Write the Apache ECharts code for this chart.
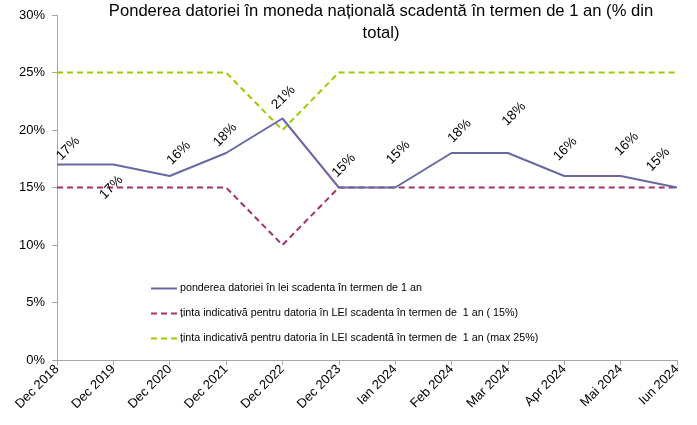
<!DOCTYPE html>
<html>
<head>
<meta charset="utf-8">
<script src="https://cdn.jsdelivr.net/npm/echarts@6/dist/echarts.min.js"></script>
<style>
  html, body { margin: 0; padding: 0; background: #fff; }
  #main { width: 697px; height: 425px; }
</style>
</head>
<body>
<div id="main"></div>
<script>
const categories = ["Dec 2018", "Dec 2019", "Dec 2020", "Dec 2021", "Dec 2022", "Dec 2023",
  "Ian 2024", "Feb 2024", "Mar 2024", "Apr 2024", "Mai 2024", "Iun 2024"];
const ponderea = [17, 17, 16, 18, 21, 15, 15, 18, 18, 16, 16, 15];
const tinta15 = [15, 15, 15, 15, 10, 15, 15, 15, 15, 15, 15, 15];
const tinta25 = [25, 25, 25, 25, 20, 25, 25, 25, 25, 25, 25, 25];
const yTicks = [0, 5, 10, 15, 20, 25, 30];

const seriesNames = [
  "ponderea datoriei în lei scadenta în termen de 1 an",
  "ținta indicativă pentru datoria în LEI scadenta în termen de  1 an ( 15%)",
  "ținta indicativă pentru datoria în LEI scadentă în termen de  1 an (max 25%)"
];

// hand-placed data labels, as in the original chart (screen pixel nudges)
const labelNudge = [[16, 3], [-7, 4], [14, -4], [4, 1], [6, -2], [10, -3],
  [8, -16], [13, -3], [11, -20], [6, -8], [11, -13], [-14, -9]];
// label offset is applied in the rotated (45deg) frame, so turn it back
function toLocal(n) {
  const k = Math.SQRT1_2;
  return [(n[0] - n[1]) * k, (n[0] + n[1]) * k];
}

let chart = echarts.init(document.getElementById("main"));
let option = {
  animation: false,
  textStyle: { fontFamily: "Liberation Sans, Arial, sans-serif" },
  title: {
    text: "Ponderea datoriei în moneda națională scadentă în termen de 1 an (% din\ntotal)",
    left: 376,
    textAlign: "center",
    top: -5,
    textStyle: { fontSize: 16.6, fontWeight: "normal", color: "#000", lineHeight: 22 }
  },
  legend: {
    orient: "vertical",
    left: 145,
    top: 278,
    itemGap: 14,
    itemWidth: 26,
    itemHeight: 12,
    itemStyle: { opacity: 0 },
    textStyle: { fontSize: 10.7, color: "#000", padding: [0, 0, 0, -2] },
    data: seriesNames
  },
  grid: { left: 57, right: 20, top: 15, bottom: 65, containLabel: false },
  xAxis: {
    type: "category",
    boundaryGap: false,
    data: categories,
    axisLine: { lineStyle: { color: "#a6a6a6" } },
    axisTick: { show: true, length: 5, lineStyle: { color: "#a6a6a6" } },
    axisLabel: { rotate: 45, fontSize: 13, color: "#000", margin: 7, interval: 0 },
    splitLine: { show: false }
  },
  yAxis: {
    type: "value",
    min: yTicks[0],
    max: yTicks[yTicks.length - 1],
    interval: 5,
    axisLine: { show: true, lineStyle: { color: "#a6a6a6" } },
    axisTick: { show: true, length: 5, lineStyle: { color: "#a6a6a6" } },
    axisLabel: { fontSize: 13, color: "#000", margin: 12, formatter: "{value}%" },
    splitLine: { show: false }
  },
  series: [
    {
      name: seriesNames[0],
      type: "line",
      symbol: "circle",
      symbolSize: 0,
      z: 3,
      lineStyle: { color: "#6868a4", width: 2 },
      itemStyle: { color: "#6868a4" },
      label: {
        show: true,
        position: "top",
        distance: 14,
        rotate: 45,
        fontSize: 13.5,
        color: "#000",
        formatter: "{c}%"
      },
      data: ponderea.map((v, i) => ({
        value: v,
        label: i === 1
          ? { position: "bottom", distance: 14, offset: toLocal(labelNudge[i]) }
          : { offset: toLocal(labelNudge[i]) }
      }))
    },
    {
      name: seriesNames[1],
      type: "line",
      symbol: "none",
      z: 2,
      lineStyle: { color: "#a3306b", width: 2, type: [6, 4] },
      itemStyle: { color: "#a3306b" },
      data: tinta15
    },
    {
      name: seriesNames[2],
      type: "line",
      symbol: "none",
      z: 2,
      lineStyle: { color: "#99cc00", width: 2, type: [6, 4] },
      itemStyle: { color: "#99cc00" },
      data: tinta25
    }
  ]
};
option && chart.setOption(option);
</script>
</body>
</html>
